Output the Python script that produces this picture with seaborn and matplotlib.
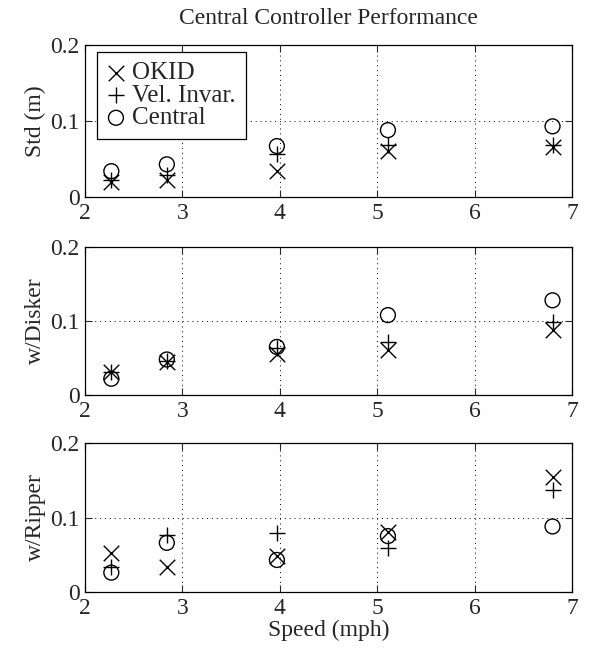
import matplotlib
matplotlib.use("Agg")
import matplotlib.pyplot as plt
import seaborn as sns
import pandas as pd

speed = [2.27, 2.84, 3.97, 5.11, 6.80]
series_names = ["OKID", "Vel. Invar.", "Central"]
std_okid = [0.020, 0.023, 0.034, 0.061, 0.066]
std_vel = [0.023, 0.029, 0.057, 0.068, 0.068]
std_central = [0.034, 0.043, 0.067, 0.088, 0.093]
disker_okid = [0.031, 0.045, 0.056, 0.061, 0.088]
disker_vel = [0.031, 0.046, 0.063, 0.071, 0.099]
disker_central = [0.022, 0.048, 0.065, 0.108, 0.128]
ripper_okid = [0.052, 0.034, 0.048, 0.081, 0.155]
ripper_vel = [0.034, 0.077, 0.079, 0.059, 0.137]
ripper_central = [0.026, 0.066, 0.043, 0.075, 0.088]
panel_labels = ["Std (m)", "w/Disker", "w/Ripper"]
title = "Central Controller Performance"
xlabel = "Speed (mph)"

sns.set_style("ticks")
plt.rcParams["font.family"] = ["Liberation Serif", "DejaVu Serif"]

panels = [
    (std_okid, std_vel, std_central),
    (disker_okid, disker_vel, disker_central),
    (ripper_okid, ripper_vel, ripper_central),
]

FS = 17
fig = plt.figure(figsize=(6.03, 6.6), dpi=100)
rects = [
    [0.141, 0.7015, 0.8076, 0.2303],
    [0.141, 0.4015, 0.8076, 0.2242],
    [0.141, 0.1030, 0.8076, 0.2258],
]
markers = {"OKID": "x", "Vel. Invar.": "+", "Central": "o"}

for i, (rect, vals) in enumerate(zip(rects, panels)):
    ax = fig.add_axes(rect)
    for name, v in zip(series_names, vals):
        df = pd.DataFrame({"speed": speed, "val": v})
        if markers[name] == "o":
            sns.scatterplot(data=df, x="speed", y="val", ax=ax, marker="o",
                            s=115, facecolors="none", edgecolor="black",
                            linewidth=1.0, label=name, zorder=3)
        else:
            sns.scatterplot(data=df, x="speed", y="val", ax=ax,
                            marker=markers[name], s=125, color="black",
                            linewidth=1.0, label=name, zorder=3)
    ax.set_xlim(2, 7)
    ax.set_ylim(0, 0.2)
    ax.set_xticks([2, 3, 4, 5, 6, 7])
    ax.set_yticks([0, 0.1, 0.2])
    ax.set_yticklabels(["0", "0.1", "0.2"])
    ax.grid(True, linestyle=(0, (1, 4)), color="black", linewidth=0.7)
    ax.tick_params(direction="in", top=True, right=True, labelsize=FS,
                   length=5, width=0.8, pad=4)
    for sp in ax.spines.values():
        sp.set_linewidth(0.9)
        sp.set_color("black")
    ax.set_ylabel(panel_labels[i], fontsize=FS, labelpad=3)
    if i == 0:
        leg = ax.legend(loc="upper left", bbox_to_anchor=(0.025, 0.955),
                        borderaxespad=0, fontsize=18, frameon=True,
                        fancybox=False, edgecolor="black", framealpha=1,
                        borderpad=0.4, handletextpad=0.3, labelspacing=0.0,
                        handlelength=0.7)
        leg.get_frame().set_linewidth(0.9)
        ax.set_title(title, fontsize=FS, pad=15)
    else:
        ax.get_legend().remove()
    if i == 2:
        ax.set_xlabel(xlabel, fontsize=FS, labelpad=1)
    else:
        ax.set_xlabel("")

fig.savefig("out.png", dpi=100)
